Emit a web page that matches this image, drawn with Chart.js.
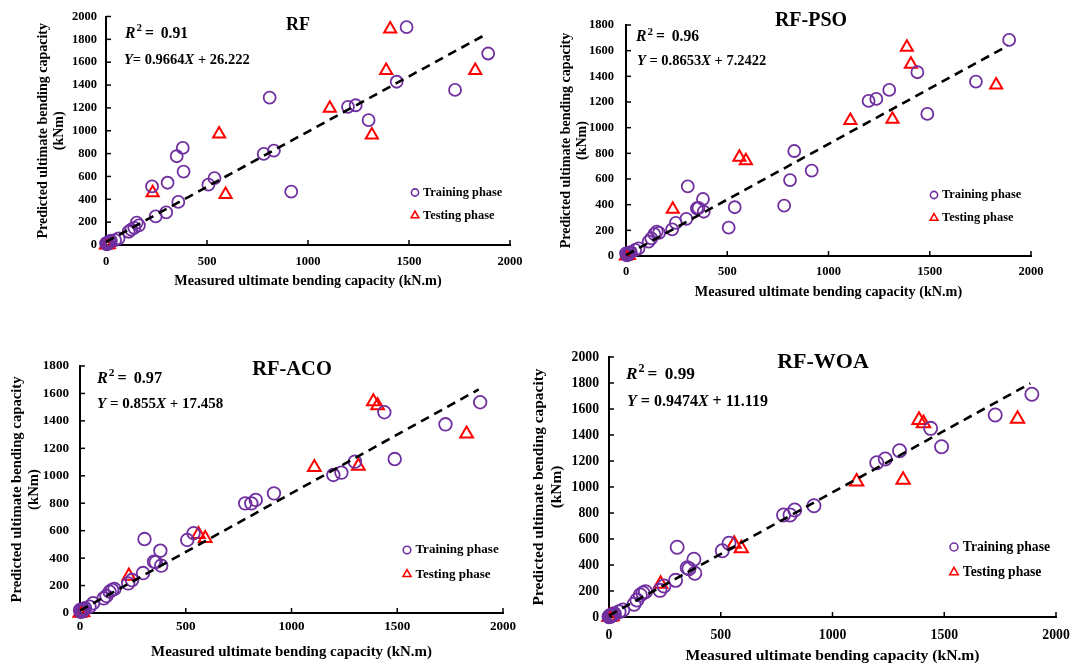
<!DOCTYPE html>
<html>
<head>
<meta charset="utf-8">
<script src="https://cdn.jsdelivr.net/npm/chart.js@4.4.1/dist/chart.umd.min.js"></script>
<style>
  body { margin: 0; width: 1070px; height: 667px; overflow: hidden; background: #fff; position: relative; }
  canvas { position: absolute; }
</style>
</head>
<body>
<canvas id="c1"></canvas>
<canvas id="c2"></canvas>
<canvas id="c3"></canvas>
<canvas id="c4"></canvas>
<script>
// measured capacities (kN.m), same samples for every model
const trainMeasured = [0, 4, 8, 12, 18, 24, 45, 62, 112, 125, 140, 152, 163, 228, 246, 298, 305, 350, 358, 380, 384, 507, 537, 781, 810, 831, 917, 1198, 1236, 1300, 1439, 1488, 1728, 1892];
const testMeasured = [0, 3, 6, 10, 14, 231, 560, 592, 1108, 1316, 1387, 1407, 1828];

// predicted capacities (kNm)
const rfTrain = [15, 6, 22, 12, 30, 38, 43, 58, 116, 135, 150, 195, 172, 513, 250, 285, 545, 777, 377, 850, 643, 528, 585, 797, 1290, 826, 467, 1209, 1223, 1093, 1429, 1907, 1357, 1676];
const rfTest = [0, 5, 2, 8, 4, 458, 971, 443, 1197, 962, 1528, 1890, 1528];
const psoTrain = [21, 5, 15, 10, 25, 30, 47, 60, 112, 138, 171, 190, 180, 208, 258, 290, 542, 372, 374, 444, 345, 221, 380, 392, 592, 818, 665, 1208, 1224, 1294, 1432, 1107, 1359, 1684];
const psoTest = [0, 4, 8, 3, 6, 364, 769, 743, 1055, 1065, 1626, 1494, 1333];
const acoTrain = [22, 8, 18, 12, 25, 35, 46, 71, 107, 124, 155, 168, 175, 216, 240, 291, 539, 374, 370, 454, 345, 532, 581, 799, 799, 824, 872, 1006, 1023, 1103, 1463, 1122, 1375, 1536];
const acoTest = [0, 6, 3, 10, 5, 270, 574, 544, 1062, 1071, 1540, 1511, 1305];
const woaTrain = [2, 10, 6, 15, 20, 25, 41, 54, 98, 131, 169, 185, 195, 205, 238, 282, 536, 379, 372, 444, 336, 510, 567, 785, 785, 823, 856, 1187, 1215, 1279, 1451, 1310, 1554, 1713];
const woaTest = [0, 3, 7, 2, 9, 255, 562, 528, 1041, 1054, 1515, 1490, 1523];

const modelNames = ['RF', 'RF-PSO', 'RF-ACO', 'RF-WOA'];
const r2Values = ['0.91', '0.96', '0.97', '0.99'];
const slopes = [0.9664, 0.8653, 0.855, 0.9474];
const intercepts = [26.222, 7.2422, 17.458, 11.119];
const fitRange = [0, 1885];
const yMaxes = [2000, 1800, 1800, 2000];
const xMax = 2000;
const xStep = 500;
const yStep = 200;

const legendLabels = ['Training phase', 'Testing phase'];
const xTitle = 'Measured ultimate bending capacity (kN.m)';
const yTitle = ['Predicted ultimate bending capacity', '(kNm)'];

const FONT = '"Liberation Serif", "Times New Roman", serif';
const PURPLE = '#7030A0';
const RED = '#FF0000';

// layout of each panel: canvas box, chart area inside it, font scale, text offsets
const panels = [
  { box: [0, 0, 535, 300], area: [106, 15, 510, 245], k: 1.0, yTitlePad: 34.6, xTitlePad: 10.5, tickPadX: 9, tickPadY: 9,
    titleSize: 18, title: [192, 9], textSize: 14.5, r2: [19, 17], eq: [18, 44], eqGap: '', legend: [309, 176] },
  { box: [535, 0, 535, 310], area: [91, 25, 496, 256], k: 1.0, yTitlePad: 22.6, xTitlePad: 9, tickPadX: 8, tickPadY: 12,
    titleSize: 20, title: [185, -4], textSize: 14.5, r2: [10, 12], eq: [11, 36], eqGap: ' ', legend: [308, 170] },
  { box: [0, 335, 535, 332], area: [80, 31, 503, 278], k: 1.05, yTitlePad: 8.2, xTitlePad: 6, tickPadX: 6, tickPadY: 11,
    titleSize: 20.5, title: [212, 4], textSize: 15, r2: [17, 13], eq: [17, 38], eqGap: ' ', legend: [327, 184] },
  { box: [525, 335, 560, 332], area: [84, 22, 531, 282], k: 1.1, yTitlePad: 4.8, xTitlePad: 2, tickPadX: 10, tickPadY: 10,
    titleSize: 22, title: [214, 5], textSize: 16, r2: [17, 18], eq: [18, 45], eqGap: ' ', legend: [345, 190] }
];

const seriesByModel = [
  [rfTrain, rfTest], [psoTrain, psoTest], [acoTrain, acoTest], [woaTrain, woaTest]
];

function toPoints(xs, ys) {
  return xs.map((x, i) => ({ x: x, y: ys[i] }));
}

// text made of runs: plain, italic or superscript
function drawRuns(ctx, x, y, runs, size) {
  ctx.textAlign = 'left';
  ctx.textBaseline = 'middle';
  runs.forEach(r => {
    const sz = r.sup ? size * 0.7 : size;
    ctx.font = (r.it ? 'italic ' : '') + 'bold ' + sz + 'px ' + FONT;
    ctx.fillText(r.t, x, r.sup ? y - size * 0.34 : y);
    x += ctx.measureText(r.t).width + (r.space || 0);
  });
}

function circleMark(ctx, x, y, r) {
  ctx.beginPath();
  ctx.arc(x, y, r, 0, Math.PI * 2);
  ctx.stroke();
}

function triangleMark(ctx, x, y, r) {
  ctx.beginPath();
  for (let i = 0; i < 3; i++) {
    const a = i * Math.PI * 2 / 3;
    const px = x + Math.sin(a) * r, py = y - Math.cos(a) * r;
    if (i === 0) ctx.moveTo(px, py); else ctx.lineTo(px, py);
  }
  ctx.closePath();
  ctx.stroke();
}

const decor = {
  id: 'decor',
  afterDraw(chart, args, o) {
    const { ctx, chartArea: a } = chart;
    const xs = chart.scales.x, ys = chart.scales.y;
    ctx.save();

    // tick marks pointing into the plot
    ctx.strokeStyle = '#000';
    ctx.lineWidth = 1.5;
    xs.ticks.forEach(t => {
      if (t.value === 0) return;
      const px = xs.getPixelForValue(t.value);
      ctx.beginPath(); ctx.moveTo(px, a.bottom); ctx.lineTo(px, a.bottom - 5); ctx.stroke();
    });
    ys.ticks.forEach(t => {
      if (t.value === 0) return;
      const py = ys.getPixelForValue(t.value);
      ctx.beginPath(); ctx.moveTo(a.left, py); ctx.lineTo(a.left + 5, py); ctx.stroke();
    });

    // model name
    ctx.fillStyle = '#000';
    ctx.font = 'bold ' + o.titleSize + 'px ' + FONT;
    ctx.textAlign = 'center';
    ctx.textBaseline = 'middle';
    ctx.fillText(o.name, a.left + o.title[0], a.top + o.title[1]);

    // R2 and fitted equation
    const s = o.textSize;
    drawRuns(ctx, a.left + o.r2[0], a.top + o.r2[1],
      [{ t: 'R', it: true, space: 1 }, { t: '2', sup: true, space: 3 }, { t: '= ', space: 3 }, { t: o.r2Text }], s * 1.08);
    drawRuns(ctx, a.left + o.eq[0], a.top + o.eq[1],
      [{ t: 'Y', it: true }, { t: o.eqGap + '= ' + o.slope }, { t: 'X', it: true }, { t: ' + ' + o.intercept }], s);

    // legend
    const lx = a.left + o.legend[0], ly = a.top + o.legend[1];
    const gap = 23 * o.k;
    ctx.lineWidth = 1.6;
    ctx.strokeStyle = PURPLE;
    circleMark(ctx, lx, ly, 3.6 * o.k);
    ctx.strokeStyle = RED;
    triangleMark(ctx, lx, ly + gap, 4.4 * o.k);
    ctx.fillStyle = '#000';
    ctx.font = 'bold ' + (12.4 * o.k) + 'px ' + FONT;
    ctx.textAlign = 'left';
    ctx.textBaseline = 'middle';
    ctx.fillText(legendLabels[0], lx + 8 * o.k, ly);
    ctx.fillText(legendLabels[1], lx + 8 * o.k, ly + gap);

    ctx.restore();
  }
};

panels.forEach((p, i) => {
  const canvas = document.getElementById('c' + (i + 1));
  const [bx, by, bw, bh] = p.box;
  const [al, at, ar, ab] = p.area;
  canvas.width = bw;
  canvas.height = bh;
  canvas.style.left = bx + 'px';
  canvas.style.top = by + 'px';
  canvas.style.width = bw + 'px';
  canvas.style.height = bh + 'px';

  const [train, test] = seriesByModel[i];
  const fitLine = fitRange.map(x => ({ x: x, y: slopes[i] * x + intercepts[i] }));
  const k = p.k;

  new Chart(canvas, {
    type: 'scatter',
    data: {
      datasets: [
        {
          label: 'Fit',
          data: fitLine,
          showLine: true,
          borderColor: '#000',
          borderWidth: 2.6,
          borderDash: [9, 6],
          pointRadius: 0,
          clip: false
        },
        {
          label: legendLabels[0],
          data: toPoints(trainMeasured, train),
          pointStyle: 'circle',
          pointRadius: 6 * k,
          pointBorderWidth: 1.8,
          borderColor: PURPLE,
          backgroundColor: 'rgba(0,0,0,0)',
          clip: false
        },
        {
          label: legendLabels[1],
          data: toPoints(testMeasured, test),
          pointStyle: 'triangle',
          pointRadius: 7 * k,
          pointBorderWidth: 2,
          borderColor: RED,
          backgroundColor: 'rgba(0,0,0,0)',
          clip: false
        }
      ]
    },
    options: {
      responsive: false,
      animation: false,
      devicePixelRatio: 1,
      layout: { padding: { left: 0, top: at, right: bw - ar, bottom: 0 } },
      plugins: {
        legend: { display: false },
        tooltip: { enabled: false },
        decor: {
          k: k, name: modelNames[i], titleSize: p.titleSize, title: p.title,
          textSize: p.textSize, r2: p.r2, eq: p.eq, eqGap: p.eqGap,
          r2Text: r2Values[i], slope: String(slopes[i]), intercept: String(intercepts[i]),
          legend: p.legend
        }
      },
      scales: {
        x: {
          type: 'linear',
          min: 0,
          max: xMax,
          afterFit: s => { s.height = bh - ab; },
          grid: { display: false, drawTicks: false },
          border: { display: true, color: '#000', width: 2 },
          ticks: {
            stepSize: xStep,
            padding: p.tickPadX,
            color: '#000',
            font: { family: FONT, size: 12.5 * k, weight: 'bold' },
            callback: v => String(v)
          },
          title: {
            display: true,
            text: xTitle,
            color: '#000',
            font: { family: FONT, size: 14.2 * k, weight: 'bold' },
            padding: { top: 0, bottom: p.xTitlePad }
          }
        },
        y: {
          type: 'linear',
          min: 0,
          max: yMaxes[i],
          afterFit: s => { s.width = al; },
          grid: { display: false, drawTicks: false },
          border: { display: true, color: '#000', width: 2 },
          ticks: {
            stepSize: yStep,
            padding: p.tickPadY,
            color: '#000',
            font: { family: FONT, size: 12.5 * k, weight: 'bold' },
            callback: v => String(v)
          },
          title: {
            display: true,
            text: yTitle,
            color: '#000',
            font: { family: FONT, size: 14 * k, weight: 'bold' },
            padding: { top: p.yTitlePad, bottom: 0 }
          }
        }
      }
    },
    plugins: [decor]
  });
});
</script>
</body>
</html>
